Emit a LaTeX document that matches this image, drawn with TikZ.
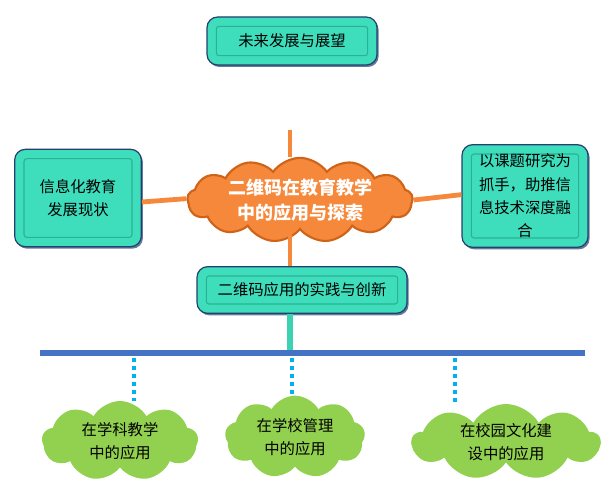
\documentclass[tikz,border=0pt]{standalone}
\usepackage{fontspec}
\setmainfont{Noto Sans CJK SC}
\usetikzlibrary{shapes.symbols,shadows}
\definecolor{tealbox}{HTML}{3EDDBC}
\definecolor{tealedge}{HTML}{23406E}
\definecolor{tealin}{HTML}{2BB293}
\definecolor{tealline}{HTML}{3CD3B2}
\definecolor{orangecl}{HTML}{F5883A}
\definecolor{orangeedge}{HTML}{CF6318}
\definecolor{greencl}{HTML}{92D050}
\definecolor{barblue}{HTML}{4472C4}
\definecolor{dotcyan}{HTML}{00B0F0}

\begin{document}
\begin{tikzpicture}[x=.75pt,y=-.75pt,every node/.style={font=\fontsize{11.5}{17.5}\selectfont,align=center,text=black},box/.style={draw=tealedge,fill=tealbox,line width=.9pt,rounded corners=8pt,drop shadow={shadow xshift=1.2pt,shadow yshift=-1.5pt,opacity=.7,fill=tealedge},path picture={\draw[tealin,line width=.8pt,rounded corners=2pt] ([shift={(7pt,-7pt)}]path picture bounding box.north west) rectangle ([shift={(-7pt,7pt)}]path picture bounding box.south east);}},orangeline/.style={orangecl,line width=3.6pt},greencloud/.style={cloud,cloud puffs=9,cloud puff arc=120,cloud ignores aspect,fill=greencl,inner sep=0pt},dotline/.style={dotcyan,line width=3pt,dash pattern=on 3pt off 3pt}]
\useasboundingbox (0,0) rectangle (607,488);
\node[box,minimum width=127.5pt,minimum height=36pt] (future) at (292,41){未来发展与展望};
\node[box,minimum width=95pt,minimum height=73pt] (stat) at (78,198){信息化教育\\发展现状};
\node[box,minimum width=94.5pt,minimum height=77pt] (res) at (525,196){以课题研究为\\抓手，助推信\\息技术深度融\\合};
\node[cloud,cloud puffs=13,cloud puff arc=110,cloud ignores aspect,minimum width=169pt,minimum height=58pt,inner sep=0pt,fill=orangecl,draw=orangeedge,line width=1.6pt,font=\fontsize{13.5}{19}\selectfont\bfseries,text=white] (cl) at (300,200){二维码在教育教学\\中的应用与探索};
\node[box,minimum width=157.5pt,minimum height=35pt] (impl) at (302,290){二维码应用的实践与创新};
\coordinate (ctop) at (290,130);\coordinate (barL) at (40,353);\coordinate (barR) at (585,353);
\draw[orangeline] (ctop) -- (ctop |- cl.north);\draw[orangeline] (ctop |- cl.south) -- (ctop |- impl.north);
\draw[orangeline] ([yshift=-3pt]stat.east) -- ([yshift=1pt]cl.west);\draw[orangeline] (cl.east) -- ([yshift=1pt]res.west);
\draw[tealline,line width=4pt] (ctop |- impl.south) -- (ctop |- barL);
\draw[barblue,line width=4.5pt] (barL) -- (barR);
\node[greencloud,minimum width=117pt,minimum height=60pt] (gA) at (120,441){在学科教学\\中的应用};
\node[greencloud,minimum width=105pt,minimum height=62pt] (gB) at (295,437){在学校管理\\中的应用};
\node[greencloud,minimum width=141pt,minimum height=57pt] (gC) at (506,442){在校园文化建\\设中的应用};
\coordinate (dA) at (134,358);\coordinate (dB) at (292,358);\coordinate (dC) at (455,358);
\draw[dotline] (dA) -- (dA |- gA.north);\draw[dotline] (dB) -- (dB |- gB.north);\draw[dotline] (dC) -- (dC |- gC.north);
\end{tikzpicture}
\end{document}
